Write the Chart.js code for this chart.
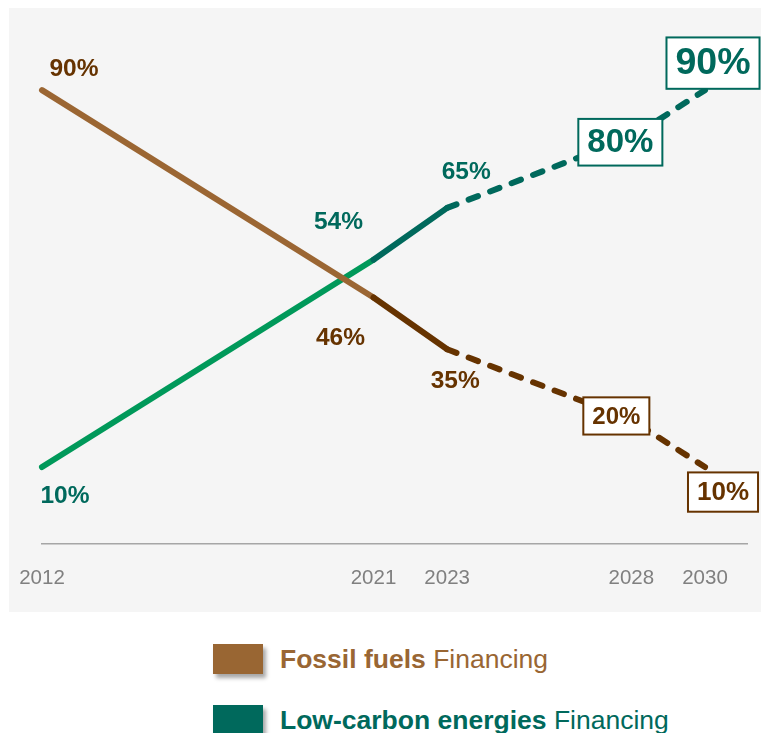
<!DOCTYPE html>
<html>
<head>
<meta charset="utf-8">
<script src="https://cdn.jsdelivr.net/npm/chart.js@4.4.1/dist/chart.umd.min.js"></script>
<style>
    html, body { margin: 0; padding: 0; background: #fff; width: 761px; height: 733px; overflow: hidden;
                 font-family: "Liberation Sans", Arial, sans-serif; }
    #plot { position: absolute; left: 9px; top: 8px; width: 752px; height: 604px; background: #f5f5f5; }
    .legend { position: absolute; left: 213px; height: 30px; display: flex; align-items: center; font-size: 26.5px; white-space: nowrap; }
    .legend .sw { width: 50px; height: 30px; margin-right: 17px; box-shadow: 3px 4px 4px rgba(0,0,0,0.35); }
    .legend b { font-weight: bold; }
</style>
</head>
<body>
<div id="plot"><canvas id="financeChart"></canvas></div>
<div class="legend" style="top:644px;color:#996633"><span class="sw" style="background:#996633"></span><span><b>Fossil fuels</b> Financing</span></div>
<div class="legend" style="top:705px;color:#00695c"><span class="sw" style="background:#00695c"></span><span><b>Low-carbon energies</b> Financing</span></div>

<script>
// 資料
const years = [2012, 2021, 2023, 2028, 2030];
const fossilShare = [90, 46, 35, 20, 10];
const lowCarbonShare = [10, 54, 65, 80, 90];
const tickYears = [2012, 2021, 2023, 2028, 2030];

// 標籤位置 (相對於資料點的偏移) 與樣式
const fossilLabels = [
    { dx: 32, dy: -22, size: 24.5 },
    { dx: -33, dy: 40, size: 24.5 },
    { dx: 8, dy: 31, size: 24.5 },
    { dx: -15, dy: -4, size: 24, box: true },
    { dx: 18, dy: 25, size: 26, box: true }
];
const lowCarbonLabels = [
    { dx: 23, dy: 28, size: 24.5 },
    { dx: -35, dy: -38, size: 24.5 },
    { dx: 19, dy: -37, size: 24.5 },
    { dx: -11, dy: 5, size: 33, box: true },
    { dx: 8, dy: -27, size: 37.5, box: true }
];

const FONT = '"Liberation Sans", Arial, sans-serif';

function toPoints(values) {
    return values.map((v, i) => ({ x: years[i], y: v }));
}

// 分段顏色：第一段較亮，之後深色，2023 以後為虛線
function segStyle(firstColor, restColor) {
    return {
        borderColor: c => c.p0DataIndex === 0 ? firstColor : restColor,
        borderDash: c => c.p0DataIndex >= 2 ? [10, 13] : []
    };
}

const valueLabels = {
    id: 'valueLabels',
    afterDatasetsDraw(chart) {
        const ctx = chart.ctx;
        chart.data.datasets.forEach((ds, i) => {
            const meta = chart.getDatasetMeta(i);
            meta.data.forEach((pt, j) => {
                const st = ds.labelStyle[j];
                const text = ds.data[j].y + '%';
                const x = pt.x + st.dx;
                const y = pt.y + st.dy;
                ctx.save();
                ctx.font = `bold ${st.size}px ${FONT}`;
                ctx.textAlign = 'center';
                ctx.textBaseline = 'middle';
                if (st.box) {
                    const w = ctx.measureText(text).width + 18;
                    const h = st.size * 1.05 + 12;
                    ctx.fillStyle = '#ffffff';
                    ctx.fillRect(x - w / 2, y - h / 2, w, h);
                    ctx.lineWidth = 2;
                    ctx.strokeStyle = ds.labelColor;
                    ctx.strokeRect(x - w / 2, y - h / 2, w, h);
                }
                ctx.fillStyle = ds.labelColor;
                ctx.fillText(text, x, y + 1);
                ctx.restore();
            });
        });
    }
};

const ctx = document.getElementById('financeChart').getContext('2d');
new Chart(ctx, {
    type: 'line',
    data: {
        datasets: [
            {
                label: 'Fossil fuels Financing',
                data: toPoints(fossilShare),
                borderWidth: 6,
                borderColor: '#663300',
                borderCapStyle: 'round',
                borderJoinStyle: 'round',
                pointRadius: 0,
                segment: segStyle('#9b6633', '#663300'),
                labelStyle: fossilLabels,
                labelColor: '#663300'
            },
            {
                label: 'Low-carbon energies Financing',
                data: toPoints(lowCarbonShare),
                borderWidth: 6,
                borderColor: '#00695c',
                borderCapStyle: 'round',
                borderJoinStyle: 'round',
                pointRadius: 0,
                segment: segStyle('#00995a', '#00695c'),
                labelStyle: lowCarbonLabels,
                labelColor: '#00695c'
            }
        ]
    },
    options: {
        responsive: true,
        maintainAspectRatio: false,
        animation: false,
        clip: false,
        layout: { padding: { left: 33, right: 14, top: 35, bottom: 21 } },
        plugins: {
            legend: { display: false },
            tooltip: { enabled: false }
        },
        scales: {
            x: {
                type: 'linear',
                min: 2012,
                max: 2031.14,
                afterBuildTicks: scale => { scale.ticks = tickYears.map(v => ({ value: v })); },
                // 刻度線不畫，只用 tickLength 把年份往下推
                grid: { display: false, drawTicks: true, tickLength: 23 },
                border: { display: true, color: '#a6a6a6', width: 1.5 },
                ticks: {
                    color: '#808080',
                    padding: 0,
                    autoSkip: false,
                    maxRotation: 0,
                    font: { family: FONT, size: 20.5 },
                    callback: v => String(v)
                }
            },
            y: {
                display: false,
                min: -6.2,
                max: 100
            }
        }
    },
    plugins: [valueLabels]
});
</script>
</body>
</html>
